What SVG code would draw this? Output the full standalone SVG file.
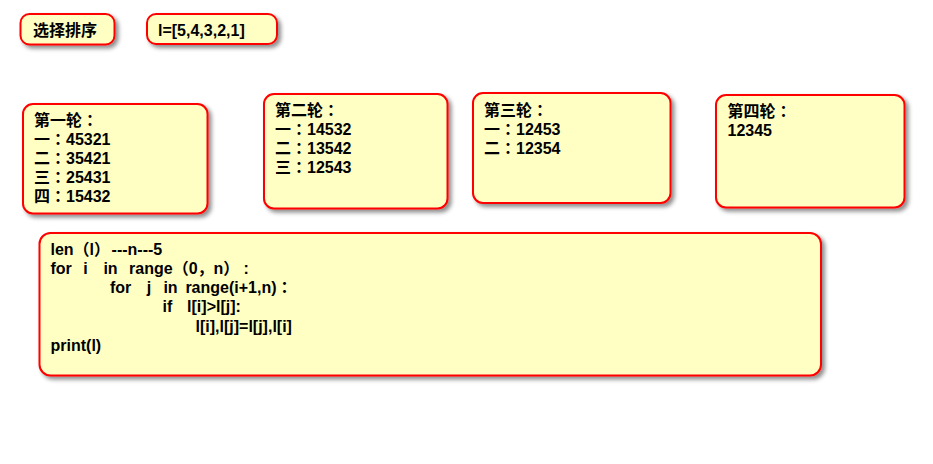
<svg xmlns="http://www.w3.org/2000/svg" width="933" height="464" viewBox="0 0 933 464">
<defs>
<filter id="sh" x="-10%" y="-10%" width="130%" height="140%">
<feDropShadow dx="3" dy="3" stdDeviation="2" flood-color="#000" flood-opacity="0.45"/>
</filter>
</defs>
<style>
.box{fill:#ffffc4;stroke:#ff0000;stroke-width:2;filter:url(#sh)}
.t{font-family:"Liberation Sans","Noto Sans CJK TC",sans-serif;font-size:16px;font-weight:bold;fill:#000}
.sc{font-family:"Liberation Sans","Noto Sans CJK SC",sans-serif}
</style>
<rect width="933" height="464" fill="#fff"/>
<g id="title">
<rect class="box" x="20.5" y="14" width="94" height="30.5" rx="9"/>
<text class="t" x="33" y="36">选择排序</text>
</g>
<g id="list">
<rect class="box" x="147" y="14" width="130" height="30" rx="9"/>
<text class="t" x="158" y="35.5">l=[5,4,3,2,1]</text>
</g>
<g id="round1">
<rect class="box" x="23" y="104" width="184.5" height="109.5" rx="10"/>
<text class="t" x="34" y="126">第一轮：</text>
<text class="t" x="34" y="145">一：45321</text>
<text class="t" x="34" y="164">二：35421</text>
<text class="t" x="34" y="183">三：25431</text>
<text class="t" x="34" y="202">四：15432</text>
</g>
<g id="round2">
<rect class="box" x="264" y="94" width="183.5" height="114.5" rx="10"/>
<text class="t" x="275" y="116">第二轮：</text>
<text class="t" x="275" y="135">一：14532</text>
<text class="t" x="275" y="154">二：13542</text>
<text class="t" x="275" y="173">三：12543</text>
</g>
<g id="round3">
<rect class="box" x="473" y="93" width="197.5" height="110" rx="10"/>
<text class="t" x="484" y="116">第三轮：</text>
<text class="t" x="484" y="135">一：12453</text>
<text class="t" x="484" y="154">二：12354</text>
</g>
<g id="round4">
<rect class="box" x="716" y="95" width="188.5" height="112.5" rx="10"/>
<text class="t" x="727.5" y="117">第四轮：</text>
<text class="t" x="727.5" y="136">12345</text>
</g>
<g id="code">
<rect class="box" x="39.5" y="233" width="781.5" height="142.5" rx="11"/>
<text class="t" x="50.5" y="255">len（l）<tspan dx="1.5">---n---5</tspan></text>
<text class="t" x="50.5" y="274">for<tspan dx="11.5">i</tspan><tspan dx="15.6">in</tspan><tspan dx="11.5">range（0</tspan><tspan class="sc">，</tspan><tspan>n）</tspan><tspan dx="4">:</tspan></text>
<text class="t" x="110" y="293">for<tspan dx="15.4">j</tspan><tspan dx="12.2">in</tspan><tspan dx="7.8">range(i+1,n)：</tspan></text>
<text class="t" x="162.5" y="312">if<tspan dx="14.8">l[i]&gt;l[j]:</tspan></text>
<text class="t" x="195.5" y="331.5">l[i],l[j]=l[j],l[i]</text>
<text class="t" x="50.5" y="351">print(l)</text>
</g>
<g id="connectors"></g>
</svg>
